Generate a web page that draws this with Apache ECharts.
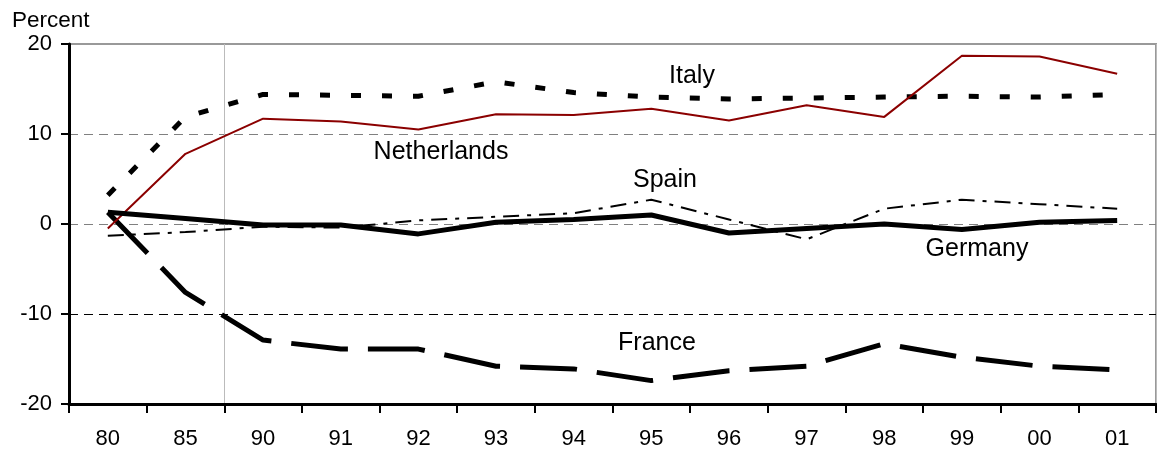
<!DOCTYPE html>
<html>
<head>
<meta charset="utf-8">
<script src="https://cdn.jsdelivr.net/npm/echarts@6/dist/echarts.min.js"></script>
<style>
html,body{margin:0;padding:0;background:#fff;}
#chart{width:1157px;height:453px;}
</style>
</head>
<body>
<div id="chart"></div>
<script>
const categories = ['80','85','90','91','92','93','94','95','96','97','98','99','00','01'];
const yTicks = [-20, -10, 0, 10, 20];
const italy       = [3.2, 11.9, 14.4, 14.3, 14.2, 15.8, 14.6, 14.1, 13.9, 14.0, 14.1, 14.2, 14.1, 14.4];
const netherlands = [-0.5, 7.8, 11.7, 11.4, 10.5, 12.2, 12.1, 12.8, 11.5, 13.2, 11.9, 18.7, 18.6, 16.7];
const germany     = [1.3, 0.6, -0.1, -0.1, -1.1, 0.2, 0.5, 1.0, -1.0, -0.5, 0.0, -0.6, 0.2, 0.4];
const spain       = [-1.3, -0.9, -0.3, -0.4, 0.4, 0.8, 1.2, 2.7, 0.5, -1.7, 1.7, 2.7, 2.2, 1.7];
const france      = [1.3, -7.6, -12.9, -13.9, -13.9, -15.8, -16.1, -17.4, -16.3, -15.8, -13.3, -14.8, -15.8, -16.2];
const seriesNames = ['Italy', 'Netherlands', 'Spain', 'Germany', 'France'];

const FONT = '"Liberation Sans", Arial, sans-serif';
const chart = echarts.init(document.getElementById('chart'), null, {renderer: 'canvas'});

function lbl(text, x, y) {
  return {type: 'text', x: x, y: y, z: 100,
    style: {text: text, fill: '#000', font: '25px ' + FONT, align: 'center', verticalAlign: 'middle'}};
}

chart.setOption({
  animation: false,
  backgroundColor: '#fff',
  title: {text: 'Percent', left: 7, top: 4,
    textStyle: {fontFamily: FONT, fontSize: 22.5, fontWeight: 'normal', color: '#000'}},
  grid: {left: 69, right: 1, top: 44, bottom: 49, show: true, borderColor: '#999', borderWidth: 2, backgroundColor: 'transparent'},
  xAxis: {
    type: 'category', data: categories, boundaryGap: true,
    axisLine: {onZero: false, lineStyle: {color: '#000', width: 3}},
    axisTick: {show: true, inside: false, length: 9, lineStyle: {color: '#000', width: 2}},
    axisLabel: {fontFamily: FONT, fontSize: 22, color: '#000', margin: 24, interval: 0},
    splitLine: {show: true, interval: function (i) { return i === 0 || i === 2; }, lineStyle: {color: '#bbb', width: 1}}
  },
  yAxis: {
    type: 'value', min: yTicks[0], max: yTicks[yTicks.length - 1], interval: 10,
    axisLine: {show: true, lineStyle: {color: '#000', width: 3}},
    axisTick: {show: true, inside: false, length: 8, lineStyle: {color: '#000', width: 2}},
    axisLabel: {fontFamily: FONT, fontSize: 22, color: '#000', margin: 17},
    splitLine: {show: true, lineStyle: {color: ['#000', '#000', '#808080', '#808080', '#999'], width: 1, type: [9, 6]}}
  },
  series: [
    {name: seriesNames[0], type: 'line', data: italy, symbol: 'none', z: 3,
      lineStyle: {color: '#000', width: 5, type: [10, 21], cap: 'butt'}},
    {name: seriesNames[1], type: 'line', data: netherlands, symbol: 'none', z: 4,
      lineStyle: {color: '#8B0000', width: 2}},
    {name: seriesNames[2], type: 'line', data: spain, symbol: 'none', z: 3,
      lineStyle: {color: '#000', width: 2, type: [16, 8, 4, 8]}},
    {name: seriesNames[3], type: 'line', data: germany, symbol: 'none', z: 5,
      lineStyle: {color: '#000', width: 5}},
    {name: seriesNames[4], type: 'line', data: france, symbol: 'none', z: 3,
      lineStyle: {color: '#000', width: 5, type: [57, 20]}}
  ],
  graphic: [
    lbl('Italy', 692, 76),
    lbl('Netherlands', 441, 152),
    lbl('Spain', 665, 180),
    lbl('Germany', 977, 249),
    lbl('France', 657, 343)
  ]
});
</script>
</body>
</html>
